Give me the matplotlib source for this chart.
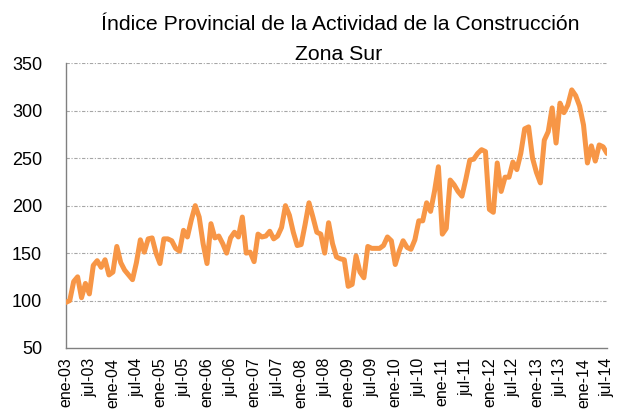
import matplotlib
matplotlib.use("Agg")
import matplotlib.pyplot as plt
import numpy as np

title_lines = ["Índice Provincial de la Actividad de la Construcción", "Zona Sur"]

values = [
    98, 100, 120, 125, 103, 118, 107, 137, 142, 135,
    143, 127, 130, 157, 140, 132, 127, 122, 140, 164,
    151, 165, 166, 150, 139, 165, 165, 163, 155, 152,
    174, 167, 185, 200, 188, 160, 139, 181, 166, 168,
    160, 150, 166, 172, 167, 188, 150, 151, 141, 170,
    167, 168, 173, 165, 168, 177, 200, 190, 172, 158,
    159, 180, 203, 188, 172, 170, 150, 182, 160, 146,
    144, 143, 115, 117, 147, 130, 124, 157, 155, 155,
    155, 158, 167, 163, 138, 152, 163, 156, 154, 164,
    184, 184, 203, 194, 215, 241, 170, 176, 227, 222,
    215, 210, 228, 248, 249, 255, 259, 257, 196, 193,
    245, 215, 230, 230, 246, 238, 255, 281, 283, 250,
    235, 224, 269, 278, 303, 266, 308, 298, 306, 322,
    316, 305, 285, 245, 263, 247, 264, 262, 255,
]

tick_labels = []
for yr in range(3, 15):
    tick_labels.append(f"ene-{yr:02d}")
    tick_labels.append(f"jul-{yr:02d}")

yticks = [50, 100, 150, 200, 250, 300, 350]

fam = ['DejaVu Sans Condensed', 'Liberation Sans Narrow', 'Liberation Sans']
plt.rcParams['font.family'] = fam

fig = plt.figure(figsize=(6.33, 4.18), dpi=100)
ax = fig.add_axes([0.104, 0.1675, 0.855, 0.681])

x = np.arange(len(values))
ax.plot(x, values, color='#F79646', lw=3.6, solid_joinstyle='round', solid_capstyle='round', zorder=3)

ax.set_xlim(0, len(values) - 1)
ax.set_ylim(50, 350)
ax.set_yticks(yticks)
xt = np.arange(0, len(values), 6)
ax.set_xticks(xt)
ax.set_xticklabels(tick_labels[:len(xt)], rotation=90)

for yv in yticks[1:]:
    ax.axhline(yv, color='#a6a6a6', lw=0.8, linestyle=(0, (3, 1.5, 1, 1.5)), zorder=1)

for s in ['top', 'right']:
    ax.spines[s].set_visible(False)
for s in ['left', 'bottom']:
    ax.spines[s].set_color('#808080')
    ax.spines[s].set_linewidth(1.0)

ax.tick_params(axis='y', length=0, pad=17, labelsize=13)
ax.tick_params(axis='x', length=0, pad=7, labelsize=11.5)

fig.text(0.537, 1 - 30 / 418, title_lines[0], ha='center', va='baseline', fontsize=15.3)
fig.text(0.535, 1 - 60 / 418, title_lines[1], ha='center', va='baseline', fontsize=15.3)

fig.savefig('out.png', dpi=100)
